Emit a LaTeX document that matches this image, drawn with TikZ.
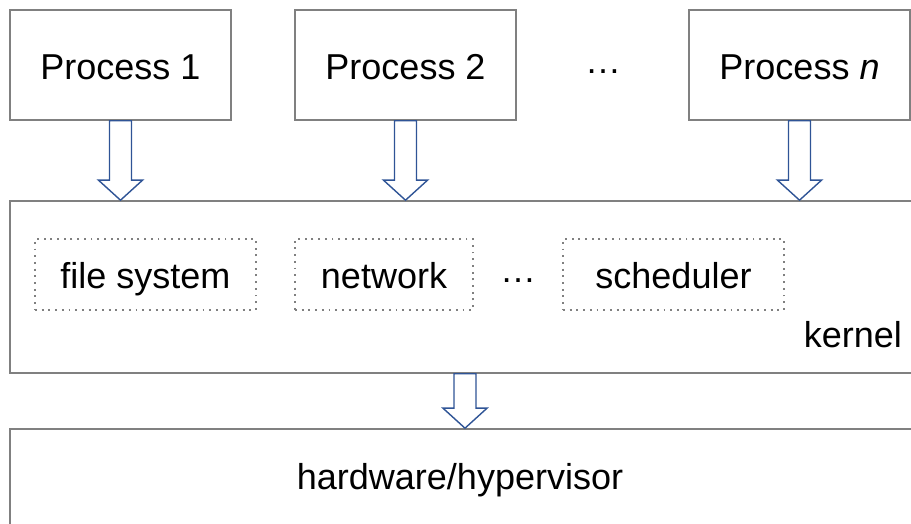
\documentclass[tikz,border=0pt]{standalone}
\usepackage{fontspec}
\setmainfont{Liberation Sans}
\usetikzlibrary{calc}
\definecolor{boxgray}{RGB}{128,128,128}
\definecolor{arrblue}{RGB}{47,84,150}
\tikzset{
  every node/.style={font=\fontsize{36}{40}\selectfont},
  solidbox/.style={draw=boxgray, line width=1.6pt, fill=white, inner sep=0pt,
    text height=30pt, text depth=0pt},
  dotbox/.style={draw=boxgray, line width=1.9pt, dash pattern=on 1.9pt off 4.8pt,
    inner sep=0pt, text height=29pt, text depth=0pt, minimum height=71pt},
  blockarr/.style={draw=arrblue, line width=1.4pt, fill=white, line join=miter},
  plain/.style={inner sep=0pt}
}
\newcommand\blockarrow[2]{%
  \draw[blockarr] let \p1=(#1), \p2=(#2) in
    (\x1-11pt,\y1) -- (\x1+11pt,\y1) -- (\x1+11pt,\y2+20pt) -- (\x1+22pt,\y2+20pt)
    -- (\x1,\y2) -- (\x1-22pt,\y2+20pt) -- (\x1-11pt,\y2+20pt) -- cycle;}
\begin{document}
\begin{tikzpicture}[x=1pt,y=1pt]
\useasboundingbox (0,0) rectangle (911,524);
\clip (0,0) rectangle (911,524);
% process boxes
\node[solidbox, minimum width=221pt, minimum height=110pt] (p1) at (120.5,459) {Process 1};
\node[solidbox, minimum width=221pt, minimum height=110pt] (p2) at (405.5,459) {Process 2};
\node[solidbox, minimum width=221pt, minimum height=110pt] (pn) at (799.5,459) {Process \textit{n}};
\node[plain, anchor=base] (dots1) at (603,450) {…};
% kernel
\node[solidbox, minimum width=910pt, minimum height=172pt] (kernel) at (465,237) {};
\node[plain, anchor=base east] (klabel) at (902,176) {kernel};
\node[dotbox, minimum width=221pt] (fs) at (145.5,249.5) {file system};
\node[dotbox, minimum width=178pt] (net) at (384,249.5) {network};
\node[dotbox, minimum width=221pt] (sched) at (673.5,249.5) {scheduler};
\node[plain, anchor=base] (dots2) at (518,241) {…};
% hardware
\node[solidbox, minimum width=910pt, minimum height=115pt] (hw) at (465,37.5) {};
\node[plain, anchor=base] (hwlabel) at (460,34) {hardware/hypervisor};
% arrows
\blockarrow{p1.south}{p1.south |- kernel.north}
\blockarrow{p2.south}{p2.south |- kernel.north}
\blockarrow{pn.south}{pn.south |- kernel.north}
\blockarrow{kernel.south}{hw.north}
\end{tikzpicture}
\end{document}
